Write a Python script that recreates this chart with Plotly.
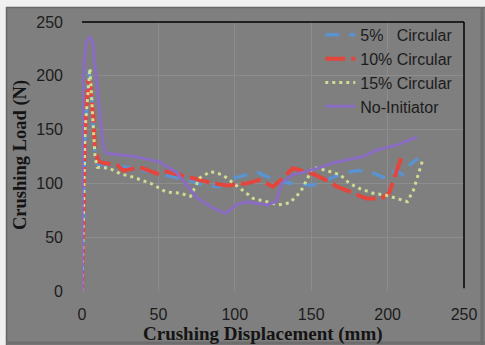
import plotly.graph_objects as go

# ---- data ----
x_5 = [0, 2, 4.5, 6.5, 8, 10, 15, 20, 30, 40, 50, 60, 70, 80, 90, 100, 110, 115, 120, 130, 140, 150, 160, 170, 180, 190, 200, 205, 210, 215, 220]
y_5 = [0, 150, 205, 180, 135, 118, 117, 116, 115, 112, 109, 106, 103, 98, 97, 105, 109, 110, 107, 101, 100, 98, 103, 109, 112, 110, 104, 112, 108, 118, 123]

x_10 = [0, 2, 4, 5.5, 7.5, 8.5, 11, 14, 23, 27, 38, 49, 55, 69, 82, 86, 95, 108, 116, 125, 130, 136, 138, 151, 160, 167, 177, 186, 196, 201, 206, 209]
y_10 = [0, 150, 196, 190, 160, 130, 120, 119, 117, 112, 115, 109, 111, 106, 101, 100, 98, 100, 103, 97, 103, 112, 114, 109, 103, 97, 91, 86, 86, 91, 112, 124]

x_15 = [0, 2, 5.2, 6.5, 7.3, 8.5, 10, 18, 25, 33, 45, 55, 64, 71, 77, 84, 92, 99, 106, 112, 121, 128, 136, 143, 147, 151, 160, 169, 175, 182, 190, 199, 206, 213, 217, 221, 223]
y_15 = [0, 150, 207, 175, 150, 125, 115, 114, 109, 106, 100, 92, 91, 88, 105, 111, 108, 100, 92, 86, 83, 80, 82, 92, 103, 115, 112, 108, 100, 95, 91, 89, 86, 83, 94, 112, 122]

x_no = [0, 0.3, 1, 3, 5, 7, 9.5, 12, 14, 16, 34, 51, 62, 75, 86, 94, 101, 108, 121, 127, 131, 138, 154, 164, 184, 193, 207, 219]
y_no = [0, 150, 205, 232, 236, 232, 196, 159, 134, 128, 125, 120, 110, 87, 77, 72, 80, 83, 80, 83, 101, 108, 114, 119, 125, 131, 136, 143]

names = ["5%   Circular", "10% Circular", "15% Circular", "No-Initiator"]
colors = ["#5a93cf", "#e4453c", "#cfdc92", "#8a6cc2"]

x_ticks = [0, 50, 100, 150, 200, 250]
y_ticks = [0, 50, 100, 150, 200, 250]

BG = "#7f7f7f"
GRID = "#8d8d8d"
EDGE = "#f0f0f0"
FRAME = "#666666"

fig = go.Figure()
fig.add_trace(go.Scatter(x=x_5, y=y_5, name=names[0], mode="lines",
                         line=dict(color=colors[0], width=3.5, dash="14px,10px")))
fig.add_trace(go.Scatter(x=x_10, y=y_10, name=names[1], mode="lines",
                         line=dict(color=colors[1], width=4, dash="20px,6px")))
fig.add_trace(go.Scatter(x=x_15, y=y_15, name=names[2], mode="lines",
                         line=dict(color=colors[2], width=3, dash="3px,4px")))
fig.add_trace(go.Scatter(x=x_no, y=y_no, name=names[3], mode="lines",
                         line=dict(color=colors[3], width=3)))

tickfont = dict(family="Liberation Sans, Arial, sans-serif", size=16, color="#1c1c1c")
titlefont_x = dict(family="Liberation Serif, Times New Roman, serif", size=19, color="#141414")
titlefont_y = dict(family="Liberation Serif, Times New Roman, serif", size=18.5, color="#141414")

# plot area in pixels: left 82, right 464, top 22, bottom 291
PW, PH = 382.0, 269.0
def px_x(p):
    return (p - 82) / PW
def px_y(p):
    return (291 - p) / PH

fig.update_layout(
    width=485, height=345,
    margin=dict(l=82, r=21, t=22, b=54, autoexpand=False),
    paper_bgcolor=BG, plot_bgcolor=BG,
    showlegend=True,
    legend=dict(x=0.985, xanchor="right", y=1.015, yanchor="top",
                bgcolor="rgba(0,0,0,0)", font=dict(family="Liberation Sans, Arial, sans-serif", size=16, color="#1c1c1c"),
                tracegroupgap=0),
    xaxis=dict(range=[0, 250], tickvals=x_ticks, showgrid=True, gridcolor=GRID, gridwidth=1,
               zeroline=False, showline=False, tickfont=tickfont, ticks="", ticklabelstandoff=12,
               automargin=False),
    yaxis=dict(range=[0, 250], tickvals=y_ticks, showgrid=True, gridcolor=GRID, gridwidth=1,
               zeroline=False, showline=False, tickfont=tickfont, ticks="", ticklabelstandoff=18,
               automargin=False),
    annotations=[
        dict(text="<b>Crushing Displacement (mm)</b>", xref="paper", yref="paper",
             x=px_x(263), y=px_y(334), xanchor="center", yanchor="middle", showarrow=False,
             font=titlefont_x),
        dict(text="<b>Crushing Load (N)</b>", xref="paper", yref="paper",
             x=px_x(20), y=px_y(155), xanchor="center", yanchor="middle", showarrow=False,
             textangle=-90, font=titlefont_y),
    ],
    shapes=[
        # light edges of the pictured frame (top and left)
        dict(type="rect", xref="paper", yref="paper", x0=px_x(-10), x1=px_x(495), y0=px_y(7), y1=px_y(-10),
             fillcolor=EDGE, line=dict(width=0), layer="above"),
        dict(type="rect", xref="paper", yref="paper", x0=px_x(-10), x1=px_x(6), y0=px_y(355), y1=px_y(-10),
             fillcolor=EDGE, line=dict(width=0), layer="above"),
        # darker frame lines
        dict(type="line", xref="paper", yref="paper", x0=px_x(6), x1=px_x(485), y0=px_y(7.5), y1=px_y(7.5),
             line=dict(color=FRAME, width=1.5), layer="above"),
        dict(type="line", xref="paper", yref="paper", x0=px_x(6.5), x1=px_x(6.5), y0=px_y(345), y1=px_y(7),
             line=dict(color=FRAME, width=1.5), layer="above"),
        dict(type="line", xref="paper", yref="paper", x0=px_x(6), x1=px_x(485), y0=px_y(343), y1=px_y(343),
             line=dict(color="#6e6e6e", width=3), layer="above"),
        dict(type="line", xref="paper", yref="paper", x0=px_x(482), x1=px_x(482), y0=px_y(345), y1=px_y(7),
             line=dict(color="#6e6e6e", width=3), layer="above"),
        # plot-area border (top and right)
        dict(type="line", xref="paper", yref="paper", x0=0, x1=1, y0=1, y1=1,
             line=dict(color="#000000", width=1.5)),
        dict(type="line", xref="paper", yref="paper", x0=1, x1=1, y0=0.01, y1=1,
             line=dict(color="#000000", width=1.5)),
    ],
)

fig.write_html("out.html")
